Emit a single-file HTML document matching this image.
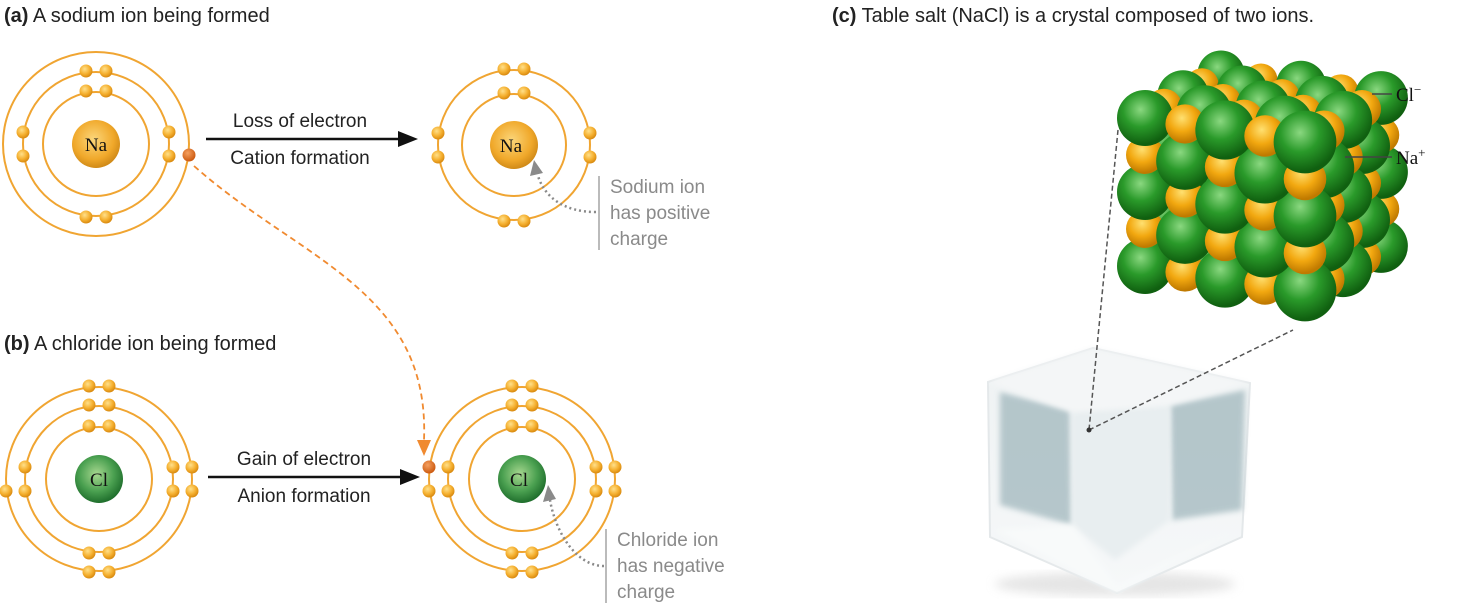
<!DOCTYPE html>
<html><head><meta charset="utf-8"><style>
html,body{margin:0;padding:0;background:#fff;}
body{width:1480px;height:610px;overflow:hidden;position:relative;}
svg{position:absolute;left:0;top:0;}
</style></head><body>
<svg id="s" width="1480" height="610" viewBox="0 0 1480 610" xmlns="http://www.w3.org/2000/svg">
<defs>
<radialGradient id="eg" cx="40%" cy="35%" r="65%"><stop offset="0" stop-color="#ffe08a"/><stop offset="0.6" stop-color="#f5b030"/><stop offset="1" stop-color="#d98a10"/></radialGradient>
<radialGradient id="edg" cx="40%" cy="35%" r="65%"><stop offset="0" stop-color="#f5a060"/><stop offset="1" stop-color="#cc5a10"/></radialGradient>
<radialGradient id="nag" cx="45%" cy="40%" r="60%"><stop offset="0" stop-color="#fbd67a"/><stop offset="0.7" stop-color="#f0a82a"/><stop offset="1" stop-color="#d08a18"/></radialGradient>
<radialGradient id="clg" cx="45%" cy="40%" r="60%"><stop offset="0" stop-color="#a8d890"/><stop offset="0.6" stop-color="#4aa050"/><stop offset="1" stop-color="#1f6e2c"/></radialGradient>
<radialGradient id="sg" cx="42%" cy="35%" r="62%"><stop offset="0" stop-color="#8ad880"/><stop offset="0.5" stop-color="#2a9a2a"/><stop offset="1" stop-color="#106010"/></radialGradient>
<radialGradient id="so" cx="42%" cy="35%" r="62%"><stop offset="0" stop-color="#ffe070"/><stop offset="0.55" stop-color="#f2a810"/><stop offset="1" stop-color="#c07a00"/></radialGradient>
<linearGradient id="ice" x1="0" y1="0" x2="0" y2="1"><stop offset="0" stop-color="#eef2f3"/><stop offset="1" stop-color="#f6f8f9"/></linearGradient>
<filter id="bl"><feGaussianBlur stdDeviation="5"/></filter>
<filter id="bl2"><feGaussianBlur stdDeviation="3"/></filter>
</defs>
<g font-family="Liberation Sans, sans-serif" font-size="20" fill="#222">
<text x="4" y="22"><tspan font-weight="bold">(a)</tspan> A sodium ion being formed</text>
<text x="4" y="350"><tspan font-weight="bold">(b)</tspan> A chloride ion being formed</text>
<text x="832" y="22"><tspan font-weight="bold">(c)</tspan> Table salt (NaCl) is a crystal composed of two ions.</text>
<text x="300" y="127" text-anchor="middle" font-size="19">Loss of electron</text>
<text x="300" y="164" text-anchor="middle" font-size="19">Cation formation</text>
<text x="304" y="465" text-anchor="middle" font-size="19">Gain of electron</text>
<text x="304" y="502" text-anchor="middle" font-size="19">Anion formation</text>
</g>
<g stroke="#111" stroke-width="2.5"><line x1="206" y1="139" x2="400" y2="139"/><line x1="208" y1="477" x2="402" y2="477"/></g>
<polygon points="398,131 418,139 398,147" fill="#111"/>
<polygon points="400,469 420,477 400,485" fill="#111"/>
<g id="atoms"></g>
<path d="M194,166 C300,260 430,290 424,440" fill="none" stroke="#f08a30" stroke-width="1.8" stroke-dasharray="6 4"/>
<polygon points="417,440 431,440 424,456" fill="#f08a30"/>
<g fill="none" stroke="#8a8a8a" stroke-width="2.5" stroke-dasharray="2 3">
<path d="M596,212 C565,212 545,198 538,176"/>
<path d="M604,566 C575,566 555,530 550,500"/>
</g>
<polygon points="530,176 543,173 534,160" fill="#8a8a8a"/>
<polygon points="543,502 556,499 548,485" fill="#8a8a8a"/>
<g stroke="#bbb" stroke-width="2"><line x1="599" y1="176" x2="599" y2="250"/><line x1="606" y1="529" x2="606" y2="603"/></g>
<g font-family="Liberation Sans, sans-serif" font-size="19" fill="#8a8a8a">
<text x="610" y="193">Sodium ion</text><text x="610" y="219">has positive</text><text x="610" y="245">charge</text>
<text x="617" y="546">Chloride ion</text><text x="617" y="572">has negative</text><text x="617" y="598">charge</text>
</g>
<!-- ice cube -->
<g>
<ellipse cx="1115" cy="584" rx="120" ry="12" fill="#ccc" filter="url(#bl)" opacity="0.5"/>
<polygon points="988,382 1093,348 1250,383 1242,537 1117,593 990,537" fill="url(#ice)" stroke="#e4e8ea" stroke-width="2"/>
<polygon points="1000,392 1070,410 1072,525 1000,505" fill="#9bb3b9" filter="url(#bl2)" opacity="0.7"/>
<polygon points="1170,405 1245,390 1242,510 1172,520" fill="#9bb3b9" filter="url(#bl2)" opacity="0.7"/>
<polygon points="1072,410 1170,405 1170,520 1115,560 1072,525" fill="#e8eef0" filter="url(#bl2)"/>
<polygon points="988,382 1093,348 1250,383 1170,405 1072,412" fill="#f4f6f7" filter="url(#bl2)"/>
<polygon points="995,530 1072,525 1117,585 1235,530 1117,593" fill="#f8fafa" filter="url(#bl2)"/>
</g>
<g stroke="#555" stroke-width="1.5" stroke-dasharray="5 3" fill="none">
<line x1="1118" y1="130" x2="1089" y2="430"/>
<line x1="1089" y1="430" x2="1293" y2="330"/>
</g>
<circle cx="1089" cy="430" r="2.5" fill="#333"/>
<g id="crystal"></g>
<g stroke="#444" stroke-width="1.5"><line x1="1372" y1="94" x2="1392" y2="94"/><line x1="1345" y1="157" x2="1392" y2="157"/></g>
<g font-family="Liberation Serif, serif" font-size="19" fill="#111">
<text x="1396" y="101">Cl<tspan font-size="13" dy="-7">−</tspan></text>
<text x="1396" y="164">Na<tspan font-size="13" dy="-7">+</tspan></text>
</g>
</svg>
<script>
var NS="http://www.w3.org/2000/svg";
function el(p,t,a){var e=document.createElementNS(NS,t);for(var k in a)e.setAttribute(k,a[k]);p.appendChild(e);return e;}
var A=document.getElementById('atoms');
function atom(cx,cy,rings,nuc,label,sup,es){
 rings.forEach(function(r){el(A,'ellipse',{cx:cx,cy:cy,rx:r,ry:r-1,fill:'none',stroke:'#f0a532','stroke-width':2});});
 el(A,'circle',{cx:cx,cy:cy,r:24,fill:nuc});
 var t=el(A,'text',{x:cx+(sup?-3:0),y:cy+7,'text-anchor':'middle','font-family':'Liberation Serif, serif','font-size':19,fill:'#111'});
 t.textContent=label;
 if(sup){var s=el(A,'tspan',{dy:-7,'font-size':13});s.textContent=sup;}
 es.forEach(function(e){el(A,'circle',{cx:e[0],cy:e[1],r:6.5,fill:e[2]?'url(#edg)':'url(#eg)'});});
}
function pairs(cx,cy,r,opts){var o=[];
 if(opts.t)o.push([cx-10,cy-r],[cx+10,cy-r]);
 if(opts.b)o.push([cx-10,cy+r],[cx+10,cy+r]);
 if(opts.l)o.push([cx-r,cy-12],[cx-r,cy+12]);
 if(opts.r)o.push([cx+r,cy-12],[cx+r,cy+12]);
 return o;}
var na=[].concat(pairs(96,144,53,{t:1}),pairs(96,144,73,{t:1,b:1,l:1,r:1}));na.push([189,155,1]);
atom(96,144,[53,73,93],'url(#nag)','Na','',na);
atom(514,145,[52,76],'url(#nag)','Na','+',[].concat(pairs(514,145,52,{t:1}),pairs(514,145,76,{t:1,b:1,l:1,r:1})));
var cl=[].concat(pairs(99,479,53,{t:1}),pairs(99,479,74,{t:1,b:1,l:1,r:1}),pairs(99,479,93,{t:1,b:1,r:1}));cl.push([6,491]);
atom(99,479,[53,74,93],'url(#clg)','Cl','',cl);
var cm=[].concat(pairs(522,479,53,{t:1}),pairs(522,479,74,{t:1,b:1,l:1,r:1}),pairs(522,479,93,{t:1,b:1,r:1}));cm.push([429,491]);cm.push([429,467,1]);
atom(522,479,[53,74,93],'url(#clg)','Cl','−',cm);
var C=document.getElementById('crystal');var sp=[];
for(var i=0;i<5;i++)for(var j=0;j<5;j++)for(var k=0;k<5;k++){
 if(i>0&&i<4&&j>0&&j<4&&k>0)continue;
 var x=1145+i*40+k*19, y=118+i*6+j*37-k*11;
 var cl2=(i+j+k)%2==0;
 var sc=1-k*0.04+i*0.03;
 sp.push({x:x,y:y,r:(cl2?28:19)*sc,cl:cl2,key:k*3+j*1.2-i*0.6});
}
sp.sort(function(a,b){return b.key-a.key;});
sp.forEach(function(s){el(C,'circle',{cx:s.x,cy:s.y,r:s.r,fill:s.cl?'url(#sg)':'url(#so)'});});
</script>
</body></html>
